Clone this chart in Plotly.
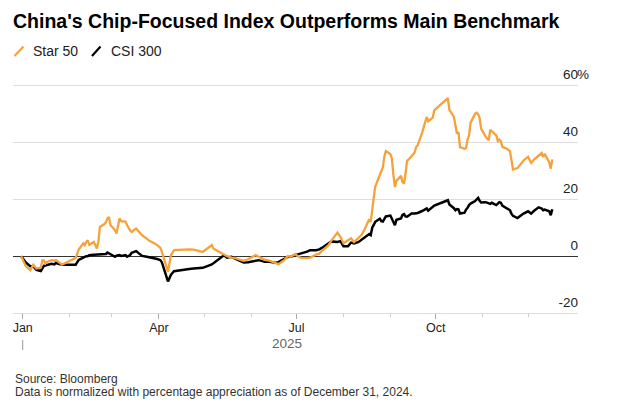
import plotly.graph_objects as go

# ---- data ----
dates = [
    "2024-12-31", "2025-01-02", "2025-01-03", "2025-01-06", "2025-01-08", "2025-01-10",
    "2025-01-13", "2025-01-14", "2025-01-15", "2025-01-16", "2025-01-17", "2025-01-20",
    "2025-01-22", "2025-01-23", "2025-01-24", "2025-01-27", "2025-02-05", "2025-02-06",
    "2025-02-07", "2025-02-10", "2025-02-11", "2025-02-12", "2025-02-13", "2025-02-14",
    "2025-02-17", "2025-02-19", "2025-02-20", "2025-02-21", "2025-02-24", "2025-02-25",
    "2025-02-26", "2025-02-27", "2025-02-28", "2025-03-03", "2025-03-04", "2025-03-06",
    "2025-03-07", "2025-03-10", "2025-03-11", "2025-03-13", "2025-03-14", "2025-03-17",
    "2025-03-19", "2025-03-21", "2025-03-24", "2025-03-26", "2025-03-28", "2025-03-31",
    "2025-04-02", "2025-04-03", "2025-04-07", "2025-04-08", "2025-04-09", "2025-04-11",
    "2025-04-15", "2025-04-17", "2025-04-21", "2025-04-24", "2025-04-28", "2025-04-30",
    "2025-05-06", "2025-05-07", "2025-05-09", "2025-05-13", "2025-05-14", "2025-05-16",
    "2025-05-19", "2025-05-21", "2025-05-23", "2025-05-27", "2025-05-30", "2025-06-04",
    "2025-06-06", "2025-06-10", "2025-06-13", "2025-06-17", "2025-06-19", "2025-06-23",
    "2025-06-25", "2025-06-27", "2025-06-30", "2025-07-02", "2025-07-04", "2025-07-08",
    "2025-07-10", "2025-07-14", "2025-07-16", "2025-07-18", "2025-07-22", "2025-07-24",
    "2025-07-28", "2025-07-30", "2025-08-01", "2025-08-04", "2025-08-06", "2025-08-08",
    "2025-08-11", "2025-08-13", "2025-08-15", "2025-08-18", "2025-08-19", "2025-08-20",
    "2025-08-21", "2025-08-22", "2025-08-25", "2025-08-26", "2025-08-27", "2025-08-28",
    "2025-08-29", "2025-09-01", "2025-09-02", "2025-09-03", "2025-09-04", "2025-09-05",
    "2025-09-08", "2025-09-09", "2025-09-10", "2025-09-11", "2025-09-12", "2025-09-15",
    "2025-09-17", "2025-09-18", "2025-09-19", "2025-09-22", "2025-09-23", "2025-09-24",
    "2025-09-25", "2025-09-26", "2025-09-29", "2025-09-30", "2025-10-09", "2025-10-10",
    "2025-10-13", "2025-10-14", "2025-10-15", "2025-10-16", "2025-10-17", "2025-10-20",
    "2025-10-21", "2025-10-22", "2025-10-23", "2025-10-24", "2025-10-27", "2025-10-28",
    "2025-10-29", "2025-10-30", "2025-10-31", "2025-11-03", "2025-11-05", "2025-11-06",
    "2025-11-07", "2025-11-10", "2025-11-11", "2025-11-12", "2025-11-13", "2025-11-14",
    "2025-11-17", "2025-11-19", "2025-11-20", "2025-11-21", "2025-11-24", "2025-11-26",
    "2025-11-28", "2025-12-01", "2025-12-03", "2025-12-05", "2025-12-08", "2025-12-10",
    "2025-12-11", "2025-12-12", "2025-12-15", "2025-12-16", "2025-12-17",
]

star50 = [
    0.0, -2.5, -3.5, -4.9, -3.0, -4.3,
    -4.0, -1.5, -1.5, -2.6, -2.0, -1.4,
    -1.6, -1.4, -1.8, -3.0, -0.6, 0.8,
    2.3, 4.5, 3.9, 5.0, 5.6, 4.0,
    5.0, 2.7, 5.0, 10.3, 11.3, 12.0,
    13.3, 13.8, 11.0, 9.1, 8.0, 13.3,
    12.3, 12.2, 10.9, 9.0, 8.5, 9.7,
    8.5, 7.3, 6.2, 5.3, 4.8, 3.9,
    2.9, 1.5, -5.5, -2.5, 0.4, 2.1,
    2.3, 2.3, 2.4, 2.3, 1.7, 1.5,
    3.9, 2.7, 2.1, 1.0, 0.8, 0.0,
    -0.5, -0.6, -1.0, -1.6, -1.1, 0.4,
    -0.2, -1.3, -1.6, -2.3, -2.8, -1.3,
    0.0, -0.2, 0.7, 0.0, -0.6, -0.7,
    -0.5, 0.6, 0.9, 2.0, 3.8, 5.5,
    8.3, 6.8, 4.5, 5.6, 6.3, 5.0,
    6.3, 7.5, 9.5, 13.0, 12.1, 15.6,
    20.5, 24.5, 28.5, 29.8, 31.2, 35.0,
    37.0, 36.0, 34.3, 28.5, 24.4, 26.5,
    28.3, 26.1, 25.5, 29.0, 33.5, 35.2,
    36.5, 38.4, 39.0, 43.5, 45.0, 47.2,
    49.0, 47.5, 48.8, 51.3, 55.6, 51.5,
    49.0, 46.0, 43.1, 43.7, 38.4, 37.8,
    38.0, 41.0, 42.5, 47.0, 50.1, 50.5,
    50.0, 48.5, 44.9, 42.0, 40.8, 44.5,
    44.0, 42.5, 40.5, 41.0, 40.5, 38.5,
    37.8, 37.0, 34.0, 30.5, 31.0, 32.2,
    33.7, 35.0, 32.8, 34.0, 35.5, 36.3,
    34.9, 36.0, 33.0, 30.8, 34.1,
]

csi300 = [
    0.0, -1.5, -2.2, -3.5, -3.5, -4.8,
    -5.2, -4.3, -3.4, -3.3, -3.2, -2.7,
    -2.9, -2.3, -2.6, -3.0, -3.0, -2.0,
    -1.3, -0.5, -0.2, 0.0, 0.0, 0.3,
    0.5, 0.6, 0.4, 0.7, 0.6, 0.8,
    1.3, 1.0, 0.4, -0.2, 0.2, 0.4,
    0.1, 0.4, -0.2, 0.4, 1.2, 1.8,
    0.9, 0.1, -0.2, -0.4, -0.6, -1.0,
    -1.4, -2.2, -8.9, -7.3, -6.5, -5.3,
    -4.9, -4.7, -4.5, -4.3, -4.2, -4.1,
    -2.9, -2.5, -1.8, -0.3, 0.3, -0.5,
    -0.2, -0.8, -1.2, -2.2, -2.1, -1.6,
    -1.4, -2.0, -2.0, -2.3, -2.1, -0.9,
    -0.3, -0.2, 0.4, 0.8, 1.0, 1.6,
    2.1, 2.1, 2.4, 3.0, 4.6, 5.2,
    5.0, 5.3, 3.5, 3.5, 4.8, 4.5,
    5.0, 5.8, 6.5, 7.8, 7.4, 10.0,
    11.0, 12.1, 13.2, 12.3, 12.2, 13.4,
    14.0, 14.3, 12.9, 12.0, 10.9, 12.8,
    13.3, 14.5, 14.8, 14.0, 13.9, 15.0,
    15.0, 15.0, 15.2, 15.9, 16.2, 16.5,
    16.8, 16.0, 17.5, 17.8, 19.7, 18.2,
    16.9, 16.2, 16.6, 16.5, 15.0, 15.3,
    16.4, 17.0, 18.0, 18.5, 19.4, 19.8,
    20.5, 19.5, 18.9, 19.0, 18.5, 18.4,
    18.8, 18.0, 18.5, 19.0, 18.8, 17.8,
    16.8, 16.2, 15.0, 14.2, 13.4, 14.3,
    15.0, 15.8, 15.0, 16.0, 17.2, 16.8,
    16.2, 16.4, 15.8, 14.4, 16.5,
]

series_names = ["Star 50", "CSI 300"]
x_tick_vals = ["2025-01-01", "2025-04-01", "2025-07-01", "2025-10-01"]
x_tick_text = ["Jan", "Apr", "Jul", "Oct"]
x_minor_vals = ["2025-02-01", "2025-03-01", "2025-05-01", "2025-06-01",
                "2025-08-01", "2025-09-01", "2025-11-01", "2025-12-01"]
y_tick_vals = [-20, 0, 20, 40, 60]
y_tick_text = ["-20", "0", "20", "40", "60"]
year_label = "2025"

# ---- styling ----
W, H = 619, 407
Y_MIN, Y_MAX = -20, 68          # plot area reaches a little above the 60 gridline
ML, MR, MB = 13, 41, 94
Y_PX_PER_UNIT = 2.845
MT = round(H - MB - (Y_MAX - Y_MIN) * Y_PX_PER_UNIT)
PW, PH = W - ML - MR, H - MT - MB
ORANGE = "#F5A23A"
BLACK = "#000000"
FONT = "Liberation Sans, Arial, sans-serif"


def px_x(px):
    return (px - ML) / PW


def px_y(py):
    return (H - MB - py) / PH


fig = go.Figure()
fig.add_trace(go.Scatter(x=dates, y=csi300, mode="lines", name=series_names[1],
                         line=dict(color=BLACK, width=2.5), showlegend=False))
fig.add_trace(go.Scatter(x=dates, y=star50, mode="lines", name=series_names[0],
                         line=dict(color=ORANGE, width=2.3), showlegend=False))

fig.update_layout(
    width=W, height=H,
    margin=dict(l=ML, r=MR, t=MT, b=MB, pad=0),
    paper_bgcolor="white", plot_bgcolor="white",
    font=dict(family=FONT, color="#333333"),
    title=dict(text="<b>China's Chip-Focused Index Outperforms Main Benchmark</b>",
               x=13 / W, xanchor="left", xref="container",
               y=1 - 21 / H, yanchor="middle", yref="container",
               font=dict(size=19.5, color="#000000", family=FONT)),
    xaxis=dict(
        type="date",
        range=["2024-12-25 14:00", "2026-01-03 00:00"],
        tickmode="array", tickvals=x_tick_vals, ticktext=x_tick_text,
        ticks="outside", ticklen=5, tickwidth=1, tickcolor="#aaaaaa",
        ticklabelstandoff=-2,
        tickfont=dict(size=12.5, color="#222222"),
        showgrid=False, showline=True, linecolor="#dddddd", linewidth=1,
        zeroline=False,
        minor=dict(tickmode="array", tickvals=x_minor_vals, ticks="outside",
                   ticklen=3, tickwidth=1, tickcolor="#cccccc", showgrid=False),
    ),
    yaxis=dict(
        range=[Y_MIN, Y_MAX], side="right",
        tickmode="array", tickvals=y_tick_vals, ticktext=y_tick_text,
        ticklabelposition="inside", ticklabelshift=-11, ticklabelstandoff=-3,
        ticks="", tickfont=dict(size=13.5, color="#222222"),
        showgrid=True, gridcolor="#dddddd", gridwidth=1,
        zeroline=True, zerolinecolor="#333333", zerolinewidth=1,
        showline=False,
    ),
)

annotations = [
    dict(text="%", x=px_x(574.5), y=60, xref="paper", yref="y", xanchor="left",
         yanchor="middle", yshift=11, showarrow=False,
         font=dict(size=13.5, color="#222222", family=FONT)),
    dict(text=series_names[0], x=px_x(31), y=px_y(51), xref="paper", yref="paper",
         xanchor="left", yanchor="middle", showarrow=False,
         font=dict(size=14, color="#222222", family=FONT)),
    dict(text=series_names[1], x=px_x(109), y=px_y(51), xref="paper", yref="paper",
         xanchor="left", yanchor="middle", showarrow=False,
         font=dict(size=14, color="#222222", family=FONT)),
    dict(text=year_label, x=px_x(287), y=px_y(343), xref="paper", yref="paper",
         xanchor="center", yanchor="middle", showarrow=False,
         font=dict(size=13.5, color="#666666", family=FONT)),
    dict(text="Source: Bloomberg", x=px_x(13), y=px_y(379), xref="paper", yref="paper",
         xanchor="left", yanchor="middle", showarrow=False,
         font=dict(size=12, color="#333333", family=FONT)),
    dict(text="Data is normalized with percentage appreciation as of December 31, 2024.",
         x=px_x(13), y=px_y(392), xref="paper", yref="paper",
         xanchor="left", yanchor="middle", showarrow=False,
         font=dict(size=12, color="#333333", family=FONT)),
]
fig.update_layout(annotations=annotations)

shapes = [
    # legend swatches (slanted strokes)
    dict(type="line", xref="paper", yref="paper", x0=px_x(14.5), y0=px_y(56),
         x1=px_x(23.5), y1=px_y(46.5), line=dict(color=ORANGE, width=2.2)),
    dict(type="line", xref="paper", yref="paper", x0=px_x(92), y0=px_y(56),
         x1=px_x(100.5), y1=px_y(46.5), line=dict(color=BLACK, width=2.2)),
    # year separator below the first tick label
    dict(type="line", xref="x", yref="paper", x0=x_tick_vals[0], x1=x_tick_vals[0],
         y0=px_y(340), y1=px_y(350), line=dict(color="#999999", width=1)),
]
fig.update_layout(shapes=shapes)

# remove the browser's default 8px page margin so the figure sits at the page origin
fig.write_html("out.html", config={"displayModeBar": False},
               post_script="document.body.style.margin='0';")
